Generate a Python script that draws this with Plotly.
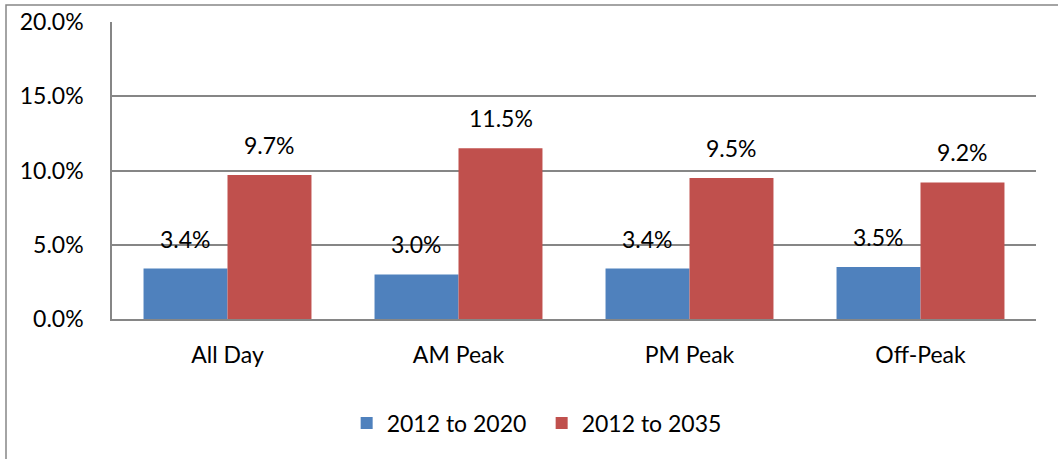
import plotly.graph_objects as go

categories = ["All Day", "AM Peak", "PM Peak", "Off-Peak"]
series_names = ["2012 to 2020", "2012 to 2035"]
values_2020 = [3.4, 3.0, 3.4, 3.5]
values_2035 = [9.7, 11.5, 9.5, 9.2]
y_ticks = [0, 5, 10, 15, 20]
y_tick_labels = ["0.0%", "5.0%", "10.0%", "15.0%", "20.0%"]

colors = ["#4F81BD", "#C0504D"]
FONT = "Lato, Open Sans, sans-serif"
FS = 23

W, H = 1058, 459
L, R, T, B = 112, 22, 22, 140
pw, ph = W - L - R, H - T - B

fig = go.Figure()
for name, vals, col in zip(series_names, [values_2020, values_2035], colors):
    fig.add_trace(go.Bar(x=categories, y=vals, name=name, marker=dict(color=col, line=dict(width=0))))

annotations = []
for vals, shift in [(values_2020, -42), (values_2035, 42)]:
    for c, v in zip(categories, vals):
        annotations.append(dict(x=c, y=v, text=f"{v:.1f}%", showarrow=False, xshift=shift,
                                yanchor="bottom", yshift=14, font=dict(size=FS, color="#000000", family=FONT)))

fig.update_layout(
    width=W, height=H,
    margin=dict(l=L, r=R, t=T, b=B, autoexpand=False),
    paper_bgcolor="white", plot_bgcolor="white",
    barmode="group", bargap=0.273, bargroupgap=0,
    font=dict(family=FONT, size=FS, color="#000000"),
    annotations=annotations,
    legend=dict(orientation="h", x=0.465, xanchor="center", y=(319 - 423) / ph, yanchor="middle",
                font=dict(size=FS), itemwidth=30, entrywidth=150, traceorder="normal"),
    shapes=[dict(type="rect", xref="paper", yref="paper",
                 x0=(6 - L) / pw, x1=(W + 5 - L) / pw,
                 y0=(319 - (H + 5)) / ph, y1=1 + (T - 5) / ph,
                 line=dict(color="#868686", width=1.5), fillcolor="rgba(0,0,0,0)", layer="below")],
)
fig.update_yaxes(range=[0, 20], tickvals=y_ticks, ticktext=y_tick_labels, showgrid=True,
                 gridcolor="#868686", gridwidth=1.5, showline=True, linecolor="#868686", linewidth=1.5,
                 zeroline=False, ticks="", ticklabelstandoff=22, tickfont=dict(size=FS), automargin=False)
fig.update_xaxes(showline=True, linecolor="#868686", linewidth=1.5, ticks="", ticklabelstandoff=15,
                 tickfont=dict(size=FS), automargin=False)

fig.write_html("out.html", config={"displayModeBar": False},
               post_script="document.body.style.margin='0';document.body.style.overflow='hidden';")
